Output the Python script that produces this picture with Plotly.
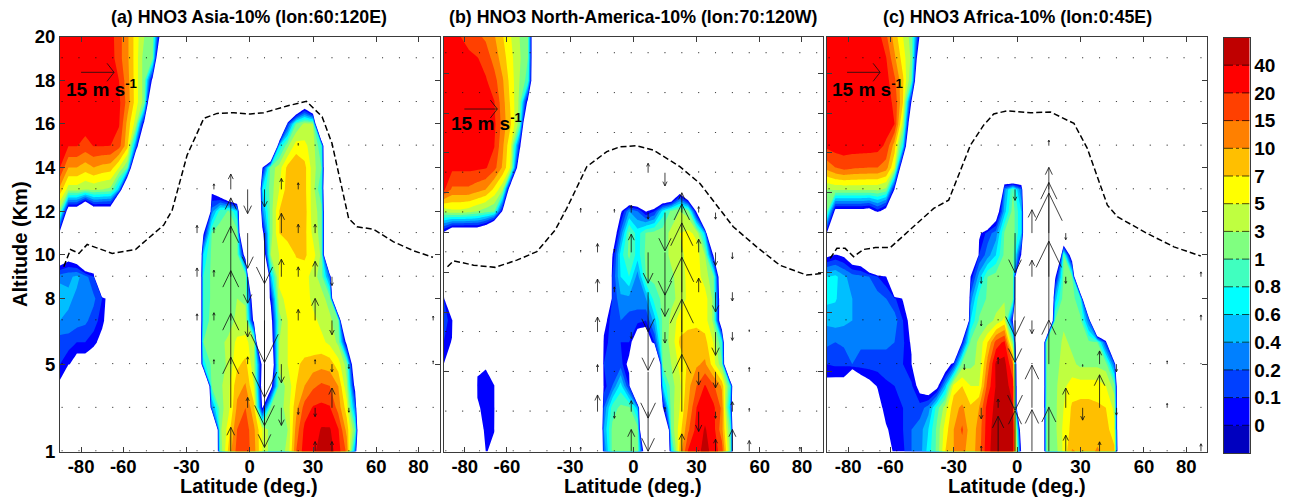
import numpy as np
import plotly.graph_objects as go

W = -2.0  # below the lowest contour: drawn white
LATS = list(range(-90, 91, 4))
ALTS_TOP_DOWN = list(range(20, 0, -1))
LEVELS = [0, 0.1, 0.2, 0.4, 0.6, 0.8, 1, 3, 5, 7, 10, 15, 20, 40]
LEVEL_LABELS = ["0", "0.1", "0.2", "0.4", "0.6", "0.8", "1", "3", "5", "7", "10", "15", "20", "40"]
COLORS = ["#0000BF", "#0000FF", "#0040FF", "#0080FF", "#00BFFF", "#00FFFF", "#40FFBF", "#80FF80",
          "#BFFF40", "#FFFF00", "#FFBF00", "#FF8000", "#FF4000", "#FF0000", "#BF0000"]

# left part of each row: lat -90..-34, altitude 20 -> 1
a_left = [
 [30,30,30,30,30,30,28,17,11,6,3,1.5,-.2],
 [30,30,30,30,30,30,30,17,11,6,2,1,-1],
 [30,30,30,30,30,30,30,20,12,6,2,-.1],
 [30,30,30,30,30,30,30,25,13,6,2,-1],
 [30,30,30,30,30,30,30,22,9,4,-.1],
 [25,21,21,18,21,21,20,17,8,.3,-1],
 [20,10,10,8.5,10,9,8.5,5,1,-1],
 [9,4,4,3,3.5,3,2.5,.5,-1],
 [2,-.24,-.24,-.7,-.24,-.24,-.24,W],
 [-.1],
 [-.3,-.15,-.3,-.9,-.7,W],
 [.3,.35,.45,.3,.1,W],
 [.62,.45,.35,.3,.25,.1,-.19],
 [.4,.35,.3,.25,.15,.05,-.2],
 [.15,.15,.1,.1,.05,-.1,W],
 [.1,.02,-.12,-.12,-.25,W],
 [-.05],
 [],
 [],
 [],
]
# middle part of each row: lat -30 upward, altitude 20 -> 1
a_mid = [
 [],
 [],
 [],
 [W]*13+[-1,-.4,-1],
 [W]*12+[.1,1,3.5,3],
 [W]*11+[.6,2.5,6,5.5,4,.8],
 [W]*9+[-.02,2,4,8,9.5,8,4,1],
 [W,W,W,-.08,-.4,-.9,-1,W,W,.6,2,5,8.5,9.5,8,4,.8],
 [W,W,W,.3,.9,1.2,.6,W,W,.3,2,7,8.5,9.5,8.5,4,2],
 [W,W,-.05,1,2,2,2,W,W,-.1,2,7,8.5,9.5,8,4.5,2],
 [W,W,.6,1.5,2,2,2,-.2,W,-.44,3,5,5.5,7.2,7.5,6,2.5],
 [W,W,.8,1.5,2,2,2.5,3,W,W,.5,5.5,5.5,6,6,4,2,.2],
 [W,W,.8,1.5,2,2.5,3,2.5,-.36,-.5,.05,4.5,5.5,6,6,4.5,3.8,2],
 [W,W,.8,2,2,2,3.5,4,-.1,W,-.14,2,5,5.5,6,5.5,4.5,3.5,1.5],
 [W,W,1,2,2.5,3.5,5.5,5.5,4,W,-.28,3,5,5.5,5.5,5.5,5.5,4.5,2.5,-.1],
 [W,W,.7,1.5,2,3.5,6.5,8,3.5,-.1,-.5,3.5,5,6.5,8,8.5,9,8.5,6,2,-.5],
 [W,W,W,1.5,2.5,4.5,9,10.5,5,-.18,-.14,2,3.5,7,10,14,16,15,10,3.5,-.1],
 [W,W,W,.3,2,4.5,11,15,8,-.02,1.5,2,4,9,17,22,25,22,13,6,.3],
 [W,W,W,W,2.5,6,15,18,11,5,2,1.5,3,12,25,28,42,42,22,9,1],
 [W,W,W,W,1.5,8,17,18,12,5,2,2,3.5,15,30,35,50,50,28,14,.3],
]
b_left = [
 [24,22,20,18,16,14,10.5,7.2,5,3,1,-1],
 [25,25,25,25,21,18,13,8.5,5.5,3.3,1,-1],
 [28,28,28,28,28,22,17,10.5,6,3,.9,-1],
 [30,30,30,30,30,25,21,12,6.5,2.5,-.1],
 [30,30,30,30,30,30,25,13,7,2,-1],
 [30,30,30,30,30,30,21,11,5,.1,-1],
 [30,25,25,25,24,22,17,9.5,4.5,-.4],
 [25,14,14,14,12,10,6.5,3.5,-.4],
 [3.5,4.5,4.5,4,3,2,1.2,-.05],
 [-.05,-.33,-.33,-.33,-.3,-.47,-1],
 [],
 [-.5],
 [.1],
 [.15,.05],
 [.1,-.02,W,W,W,-.5],
 [0,W,W,W,-.05,-.02,-.3],
 [W,W,W,W,.03,.05,.01],
 [W,W,W,W,-.03,.05,.03],
 [W,W,W,W,-.19,.05,.01],
 [W,W,W,W,W,.02,-.1],
]
b_mid = [
 [],[],[],[],[],[],[],
 [W]*7+[-1,-1,-1,-1,-1,-1,-.23,-.8],
 [W]*6+[-.05,.4,.2,-.02,.1,.7,1.5,3,2,-.05],
 [W]*5+[-.3,.25,1.5,.7,1.2,1.8,2,3.5,5,5.5,4.5,.5],
 [W]*5+[-.02,.7,1.5,.7,1.5,2,2,3.5,4.5,5.5,6,3,-.02],
 [W]*5+[.1,.6,.8,.3,1,1.5,2,2.5,4,5.5,6,4,1.5,-.5],
 [W]*5+[.1,.35,.35,.3,.4,.9,1.5,2.5,3.5,5.5,6,6,2.5,-.4],
 [W]*4+[-.15,.2,.2,.15,.15,.1,.5,1.5,3.5,6,6.5,6.5,6,2.5,-.4],
 [W]*4+[.05,.15,.1,.1,-.3,-.3,.1,2,3.5,7.5,8,8.5,8,5,.8],
 [W]*4+[.1,.2,.15,-.08,W,W,W,1.5,3,5.5,7.5,9.5,11,6,1.5],
 [W]*4+[.05,.2,.7,.1,W,W,W,.6,2,4.5,9,15,22,16,9.5,.8],
 [W]*4+[.2,.9,1.5,1.5,.5,W,W,-.02,2,5,10,20,32,25,14,.5],
 [W]*4+[.4,1.5,2,2,2,W,W,W,1.5,6,14,27,42,28,12,1],
 [W]*4+[.2,1.5,2,2,2,-.38,W,W,.6,8,22,30,50,30,18,2],
]
c_left = [
 [30,30,30,30,30,30,30,16,8.5,5,2,-.05],
 [30,30,30,30,30,30,30,21,11,6,2.5,-.5],
 [30,30,30,30,30,30,30,28,16,7.5,1,-1],
 [30,30,30,30,30,30,30,28,19,7,-.02],
 [30,30,30,30,30,30,30,30,20,4,-.5],
 [25,30,30,30,30,30,28,19,8.5,.7,-1],
 [12,15,17,16,15.5,15,15,12.5,5,-.5],
 [3,3.5,3.5,3.5,3.5,3.5,3.5,2.5,-.02],
 [1.5,-.1,-.1,-.1,-.1,-.15,.05,-.15,W],
 [-.02],
 [-.06,.01,-.04,-.25,-.3,-1,W],
 [.6,.66,.45,.3,.25,.2,.1,.02,W],
 [.66,.62,.5,.4,.35,.3,.3,.2,.12,-.02],
 [.45,.5,.45,.4,.35,.3,.3,.3,.3,.1,-.1],
 [.25,.2,.25,.25,.25,.25,.25,.25,.2,.12,-.03],
 [.1,.12,.12,.2,.15,.15,.15,.15,.15,.1,.02,W,W,W,-.25],
 [-.08,-.1,-.1,-.8,-.2,-.08,.01,.08,.1,.15,.12,-.1,-.23,-.1,.5],
 [W,W,W,W,W,W,-.08,.05,.1,.1,.2,.15,.3,.9,4],
 [W,W,W,W,W,W,W,-.02,.05,.1,.2,.3,.6,1.5,6],
 [W,W,W,W,W,W,W,-.2,.05,.08,.2,.3,.7,1.5,7],
]
c_mid = [
 [],[],[],[],[],[],
 [W]*6+[-1,-2,-1],
 [W]*6+[.3,1,.2],
 [W]*4+[-1,-.25,.5,2,.6],
 [W,W,W,-.06,.15,.3,1.2,2,.6,W,W,W,W,-1],
 [W,W,W,.1,.3,.6,1.5,2,-.02,W,W,W,W,1,-.3],
 [W,W,.02,.5,1,2,2,1.5,W,W,W,W,-.05,1.5,1.2],
 [W,W,.3,.9,1.2,2,2.5,1,W,W,W,W,.5,2,2,.8],
 [W,W,.6,1.2,2,3.5,5.5,-.02,W,W,W,W,1,2.5,1.8,1.5,.2],
 [W,.05,1.5,3.5,7,17,25,2,W,W,W,1.5,1.5,3.5,2.5,2,1.5,1,.1],
 [.1,2,2.5,3.5,12,45,48,15,W,W,W,1.5,2,4,3.5,2.5,2.5,2.5,2,.2],
 [6,7,5,5,17,42,50,30,W,W,W,1.2,2.5,4.5,6,6,6,6,5,2],
 [9,11,7.5,10,30,45,50,42,W,W,W,1.5,2.5,5,7.5,8,8,7.5,7,4.5],
 [10,16,8,12,32,50,50,45,-.34,W,W,1.5,2.5,5.5,8,8,8,8,8.5,5.5],
 [10,12,8,13,35,50,50,42,-.05,W,W,1.5,2,5.5,10.5,9.5,8.5,11,8.5,8],
]

# tropopause (dashed)
a_trop_lat = [-88.2,-85,-81,-77.1,-65.2,-54.2,-40.8,-36.8,-29.7,-21.8,-15.5,-7.6,.3,6.6,17.7,26.9,34.3,39,46.9,50.9,58.8,68.2,77.7,86.9]
a_trop_alt = [9.46,10.25,10.07,10.48,10.07,10.25,11.37,12.05,14.57,16.25,16.48,16.51,16.45,16.51,16.82,17.03,16.33,15.11,11.67,11.29,11.17,10.6,10.19,9.89]
b_trop_lat = [-88.2,-85.3,-75.8,-65.6,-55.3,-45.8,-37.1,-31.6,-22.1,-12.6,-6.3,1.6,9.5,22.1,31.6,39.5,47.4,58.5,69.5,82.1,89.7]
b_trop_alt = [9.46,9.73,9.53,9.43,9.76,10.15,11.14,12.13,14.04,14.73,14.95,15,14.8,14.04,13.27,12.28,11.29,10.37,9.53,9.08,9.15]
c_trop_lat = [-88.5,-85.3,-81.4,-77.4,-72.7,-67.1,-60,-49,-39.5,-32.4,-22.1,-15.8,-11.1,-4.7,6.3,15.8,26.9,33.2,37.9,42.7,47.4,61.6,74.2,86.9]
c_trop_alt = [9.84,10.3,10.3,9.92,10.25,10.34,10.34,11.29,12.13,12.51,15.03,15.95,16.45,16.6,16.51,16.54,16.02,14.88,13.58,12.28,11.75,10.98,10.37,9.95]

# wind arrows
ARROW_LATS = list(range(-89, 88, 8))
a_arrow_alts = list(range(1, 20, 2))
b_arrow_alts = list(range(1, 22, 2))
c_arrow_alts = list(range(1, 20, 2))
a_w_lat = [-25,-25,-25, -17,-17,-17,-17,-17, -9,-9,-9,-9,-9,-9,-9, -1,-1,-1,-1,-1,-1, 7,7,7,7,7,7, 15,15,15,15,15, 23,23,23,23,23,23, 31,31,31,31,31,31, 39,39,39,39,39, 47,47, 87,87]
a_w_alt = [11,9,7, 13,11,9,7,5, 1,3,5,7,9,11,13, 3,5,7,9,11,13, 3,5,7,9,11,13, 3,5,9,11,13, 3,7,9,11,13,15, 1,3,5,7,9,11, 1,3,5,7,9, 3,5, 7,5]
a_w_val = [3.5,4,3, 2.5,2.5,3,3.5,2, 11,23,23,22.6,23,16,7, 4.7,3.3,-7.5,-12,-16,-11, -18,-28,-35,-39,-23,-8, -8,-8.5,8,9,5, -3,5,4.5,4,3,1, 4.5,-4,2,10,7,4, 4.5,9,-3.5,-6.5,-4, -2,-2, 2,1.5]
b_w_lat = [-25,-25,-25, -17,-17,-17,-17,-17, -9,-9,-9,-9, -1,-1,-1,-1,-1, 7,7,7,7,7,7,7, 15,15,15,15,15,15, 23,23,23,23,23,23,23, 31,31,31,31,31,31, 39,39,39,39,39,39,39, 47,47,47,47,47, 55,55,55,55, 79]
b_w_alt = [1,11,13, 3,5,7,9,11, 3,9,11,13, 1,3,7,11,13, 3,5,7,9,11,13,15, 3,7,9,11,13,15, 1,3,5,7,9,11,13, 3,5,9,11,13,15, 1,3,5,7,9,11,13, 1,3,7,9,11, 1,3,5,7, 1]
b_w_val = [2,1,2, 7.6,3.3,6.8,6,4, -3,2.4,1.5,1.5, 10,5,-3,8.3,3.3, -18,-21,-17.4,-18,-14,-3,4.3, 2,-5,-11,-19.4,-17.4,-6, 8,26,33,34,31.5,22,9, -9,-6,6.4,6,2.7,.5, 5.6,-3,-7.3,-10.6,-9,-6,-3, 10,4.5,-3.8,-4,-3, 5,1.5,2,1, 2]
c_w_lat = [-25, -17,-17,-17,-17, -9,-9,-9, -1,-1,-1,-1,-1,-1, 7,7,7,7,7, 15,15,15,15,15,15,15, 23,23,23,23, 31,31, 39,39,39, 47,47, 71,71, 87,87,87]
c_w_alt = [5, 1,3,7,9, 1,3,5, 1,5,7,9,11,13, 1,3,7,9,11, 1,5,7,9,11,13,15, 1,3,9,11, 3,5, 1,3,5, 3,5, 3,5, 1,7,9]
c_w_val = [-2.5, 2.5,-5,-2.5,-3, 16,4,3, 18.5,-21,-19,-27,-18,-5, 19,19.4,-6,7.5,10.6, 20,20,36,38,23,10,2.5, 7.4,9,-3,-3, -5.6,-1, 4.4,15,6, -3.3,-3.5, 2,1.5, 3.5,2.5,2.2]
DOT_W = 0.4
REF_W = 15

B_STRETCH = 1.097   # panel b altitude axis reaches higher
ALT_TICKS = [1, 5, 8, 10, 12, 14, 16, 18, 20]
LAT_TICKS = [-80, -60, -30, 0, 30, 60, 80]
LAT_TICK_LABELS = ["-80", "-60", "-30", "0", "30", "60", "80"]
TITLES = ["(a) HNO3 Asia-10% (lon:60:120E)", "(b) HNO3 North-America-10% (lon:70:120W)", "(c) HNO3 Africa-10% (lon:0:45E)"]

FONT = "Liberation Sans"
INK = "#000000"
FRAME = "#3a3a3a"
PX_PER_W = 2.2
PX_PER_DEG = 2.11
PAGE_MARGIN = 8   # default body margin of the written page
FIG_W = 1293 - PAGE_MARGIN
FIG_H = 500 - PAGE_MARGIN


def fx(px):
    return (px - PAGE_MARGIN) / FIG_W


def fy(py):
    return 1 - (py - PAGE_MARGIN) / FIG_H


def to_index(v):
    v = np.asarray(v, float)
    pos = np.interp(v, LEVELS + [60], list(range(14)) + [14])
    return np.where(v < 0, v * 8, pos)


def grid(left, mid):
    rows = []
    for l, m in zip(left, mid):
        lpart = list(l) + [W] * (15 - len(l))
        mpart = list(m) + [W] * (31 - len(m))
        rows.append(lpart + mpart)
    return to_index(np.array(rows[::-1], float))


def colorscale():
    p = lambda x: min((x + 0.5) / 14, 1)
    cs = [[0, "#FFFFFF"], [p(0), "#FFFFFF"]]
    for i in range(14):
        cs += [[p(i), COLORS[i + 1]], [p(i + 1), COLORS[i + 1]]]
    return cs


def arrows(alts, lat_o, alt_o, val_o, px_per_km):
    over = {(la, al): v for la, al, v in zip(lat_o, alt_o, val_o)}
    xs, ys = [], []
    for al in alts:
        for la in ARROW_LATS:
            w = over.get((la, al), DOT_W)
            L = w * PX_PER_W
            tip = al + L / px_per_km
            hl = 0.33 * L / px_per_km
            hw = 0.16 * abs(L) / PX_PER_DEG
            xs += [la, la, None, la - hw, la, la + hw, None]
            ys += [al, tip, None, tip - hl, tip, tip - hl, None]
    return xs, ys


def ref_arrow(lat0, al, px_per_km):
    tip = lat0 + REF_W * PX_PER_W / PX_PER_DEG
    back = tip - 7 / PX_PER_DEG
    h = 9 / px_per_km
    return [lat0, tip, None, back, tip, back], [al, al, None, al + h, al, al - h]


fig = go.Figure()
panels = [
    dict(left=a_left, mid=a_mid, tlat=a_trop_lat, talt=a_trop_alt, alts=a_arrow_alts, o=(a_w_lat, a_w_alt, a_w_val),
         xdom=(60, 439.5), stretch=1.0, ref=(-80, 18.36), txt=(-88, 17.65), tc=249),
    dict(left=b_left, mid=b_mid, tlat=b_trop_lat, talt=b_trop_alt, alts=b_arrow_alts, o=(b_w_lat, b_w_alt, b_w_val),
         xdom=(443.7, 823), stretch=B_STRETCH, ref=(-80.2, 18.2), txt=(-87.6, 17.55), tc=633),
    dict(left=c_left, mid=c_mid, tlat=c_trop_lat, talt=c_trop_alt, alts=c_arrow_alts, o=(c_w_lat, c_w_alt, c_w_val),
         xdom=(827, 1207.3), stretch=1.0, ref=(-80.5, 18.36), txt=(-88.5, 17.65), tc=1017),
]
YDOM = [fy(451.5), fy(36.5)]
axis_common = dict(showgrid=False, zeroline=False, showline=True, linecolor=FRAME, linewidth=1, ticks="inside",
                   ticklen=5, tickcolor=FRAME, tickwidth=1, mirror="ticks", automargin=False,
                   tickfont=dict(family=FONT, size=18.5, color=INK, weight=700))
layout = {}
scale = colorscale()
annotations = []
for i, p in enumerate(panels):
    n = i + 1
    xa, ya = f"x{n}", f"y{n}"
    s = p["stretch"]
    alt_rows = [1 + (a - 1) * s for a in sorted(ALTS_TOP_DOWN)]
    fig.add_trace(go.Contour(x=LATS, y=alt_rows, z=grid(p["left"], p["mid"]), xaxis=xa, yaxis=ya,
                             colorscale=scale, zmin=-0.5, zmax=13.5, showscale=False, hoverinfo="skip",
                             autocontour=False, contours=dict(start=0, end=13, size=1, coloring="fill", showlines=False),
                             line=dict(width=0, smoothing=0)))
    fig.add_trace(go.Scatter(x=p["tlat"], y=[1 + (a - 1) * s for a in p["talt"]], xaxis=xa, yaxis=ya, mode="lines",
                             line=dict(color="#000000", width=1.5, dash="6px,3px"), hoverinfo="skip", showlegend=False))
    ppk = 21.84 / s
    ax, ay = arrows(p["alts"], *p["o"], ppk)
    fig.add_trace(go.Scatter(x=ax, y=ay, xaxis=xa, yaxis=ya, mode="lines", line=dict(color="#111111", width=0.8),
                             hoverinfo="skip", showlegend=False))
    rx, ry = ref_arrow(*p["ref"], ppk)
    fig.add_trace(go.Scatter(x=rx, y=ry, xaxis=xa, yaxis=ya, mode="lines", line=dict(color="#111111", width=0.8),
                             hoverinfo="skip", showlegend=False))
    annotations.append(dict(x=p["txt"][0], y=p["txt"][1], xref=xa, yref=ya, xanchor="left", yanchor="middle",
                            showarrow=False, text="15 m s<sup>-1</sup>",
                            font=dict(family=FONT, size=19, color=INK, weight=700)))
    annotations.append(dict(x=fx(p["tc"]), y=fy(16.5), xref="paper", yref="paper",
                            xanchor="center", yanchor="middle", showarrow=False, text=TITLES[i],
                            font=dict(family=FONT, size=17.8, color=INK, weight=700)))
    annotations.append(dict(x=fx(p["tc"]), y=fy(486), xref="paper", yref="paper",
                            xanchor="center", yanchor="middle", showarrow=False, text="Latitude (deg.)",
                            font=dict(family=FONT, size=20, color=INK, weight=700)))
    layout[f"xaxis{n}"] = dict(axis_common, domain=[fx(p["xdom"][0]), fx(p["xdom"][1])], range=[-90, 90],
                               tickvals=LAT_TICKS, ticktext=LAT_TICK_LABELS, anchor=ya, ticklabelstandoff=-2)
    layout[f"yaxis{n}"] = dict(axis_common, domain=YDOM, range=[1, 1 + 19 * s], tickvals=ALT_TICKS, anchor=xa,
                               showticklabels=(i == 0))
annotations.append(dict(x=fx(20), y=fy(244), xref="paper", yref="paper", xanchor="center", yanchor="middle",
                        showarrow=False, text="Altitude (Km)", textangle=-90,
                        font=dict(family=FONT, size=20, color=INK, weight=700)))

# panel (c): its left-hand ticks follow the taller altitude scale, the right-hand ones the shorter
layout["yaxis3"].update(side="right", mirror=False)
layout["yaxis5"] = dict(axis_common, domain=YDOM, range=[1, 1 + 19 * B_STRETCH], tickvals=ALT_TICKS, anchor="x3",
                        overlaying="y3", side="left", mirror=False, showticklabels=False)
fig.add_trace(go.Scatter(x=[None], y=[None], xaxis="x3", yaxis="y5", mode="lines", hoverinfo="skip", showlegend=False))

# colour bar
bar_vals = list(range(15))
fig.add_trace(go.Heatmap(z=[[v] for v in bar_vals], x=[0], y=bar_vals, xaxis="x4", yaxis="y4", zmin=-0.5, zmax=14.5,
                         showscale=False, hoverinfo="skip",
                         colorscale=sum([[[k / 15, COLORS[k]], [(k + 1) / 15, COLORS[k]]] for k in range(15)], [])))
bx, by = [], []
for k in range(14):
    bx += [-0.5, 0.5, None]
    by += [k + 0.5, k + 0.5, None]
fig.add_trace(go.Scatter(x=bx, y=by, xaxis="x4", yaxis="y4", mode="lines", hoverinfo="skip", showlegend=False,
                         line=dict(color="#000000", width=0.7, dash="dashdot")))
layout["xaxis4"] = dict(domain=[fx(1224), fx(1249.5)], range=[-0.5, 0.5], anchor="y4", showticklabels=False,
                        ticks="", showgrid=False, zeroline=False, showline=True, linecolor=FRAME, mirror=True,
                        automargin=False)
layout["yaxis4"] = dict(domain=[fy(453), fy(37.5)], range=[-0.5, 14.5], anchor="x4", side="right",
                        tickvals=[k + 0.5 for k in range(14)], ticktext=LEVEL_LABELS, ticks="", showgrid=False,
                        zeroline=False, showline=True, linecolor=FRAME, mirror=True, automargin=False,
                        tickfont=dict(family=FONT, size=19, color=INK, weight=700))

fig.update_layout(width=FIG_W, height=FIG_H, margin=dict(l=0, r=0, t=0, b=0), paper_bgcolor="white",
                  plot_bgcolor="white", showlegend=False, annotations=annotations, **layout)
fig.write_html("out.html")
